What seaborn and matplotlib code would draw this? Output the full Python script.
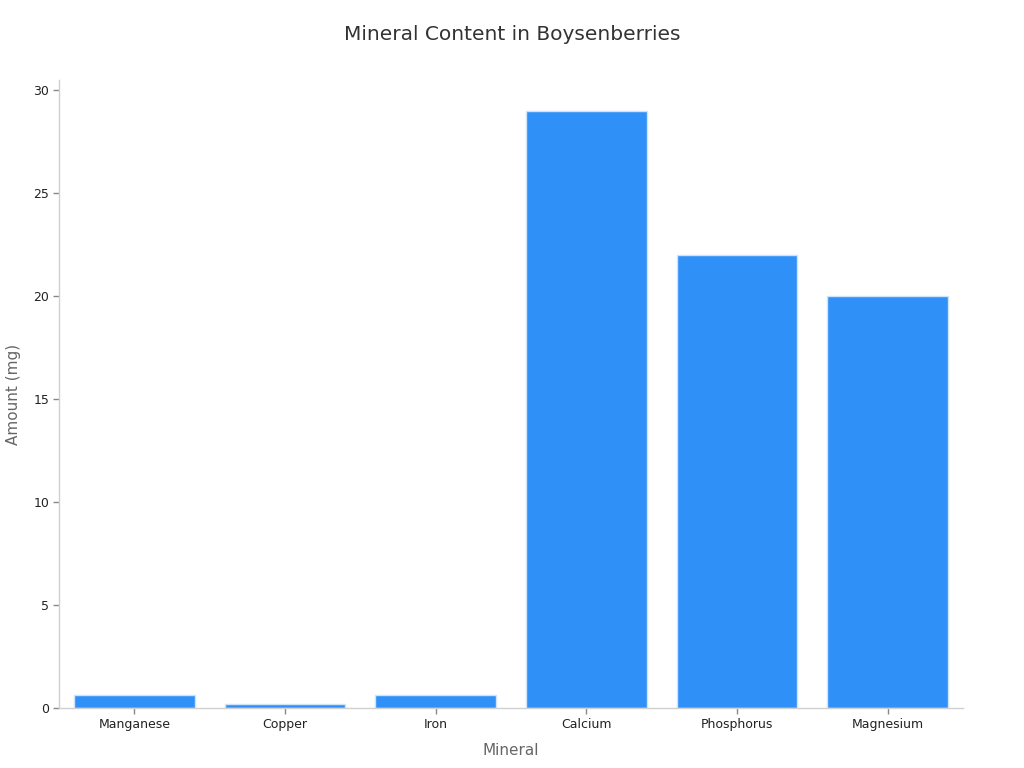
import matplotlib
matplotlib.use("Agg")
import matplotlib.pyplot as plt
import seaborn as sns
import pandas as pd

minerals = ["Manganese", "Copper", "Iron", "Calcium", "Phosphorus", "Magnesium"]
amounts = [0.65, 0.18, 0.62, 29, 22, 20]

df = pd.DataFrame({"Mineral": minerals, "Amount (mg)": amounts})

sns.set_style("ticks")
plt.rcParams["font.family"] = ["DejaVu Sans"]

fig = plt.figure(figsize=(10.24, 7.68), dpi=100)
ax = fig.add_axes([0.0576, 0.078, 0.8828, 0.818])

sns.barplot(data=df, x="Mineral", y="Amount (mg)", color="#2f91f8", saturation=1,
            width=0.8, edgecolor="#cfe3fb", linewidth=1, ax=ax)

ax.set_xlim(-0.5, 5.5)
ax.set_ylim(0, 30.5)
ax.set_yticks([0, 5, 10, 15, 20, 25, 30])
sns.despine(ax=ax)
for s in ["left", "bottom"]:
    ax.spines[s].set_color("#d0d0d0")
    ax.spines[s].set_linewidth(1)
ax.tick_params(axis="both", labelsize=9, labelcolor="#222222", length=4, width=1,
               color="#888888", pad=3)
ax.set_xlabel("Mineral", fontsize=11, color="#666666", labelpad=9)
ax.set_ylabel("Amount (mg)", fontsize=11, color="#666666", labelpad=9)
fig.suptitle("Mineral Content in Boysenberries", fontsize=14.5, color="#333333", y=0.968)

fig.savefig("out.png", dpi=100)
